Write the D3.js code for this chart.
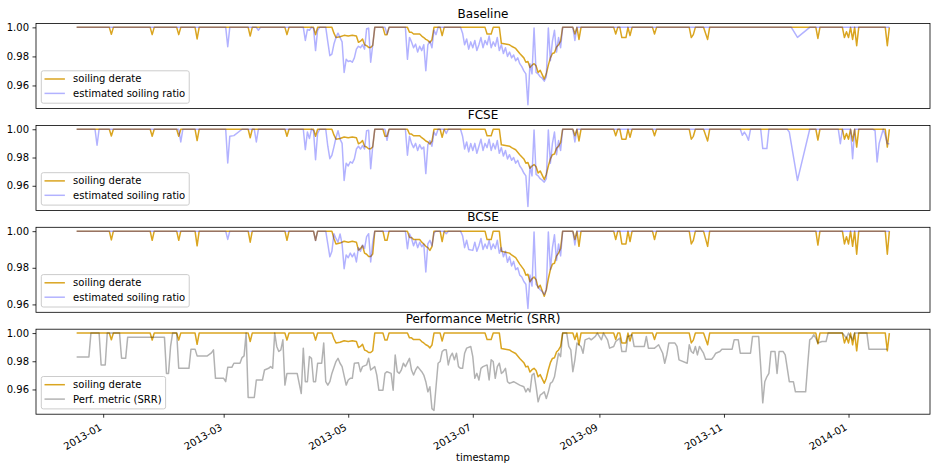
<!DOCTYPE html>
<html>
<head>
<meta charset="utf-8">
<script src="https://cdnjs.cloudflare.com/ajax/libs/d3/7.8.5/d3.min.js"></script>
<style>
  body { margin: 0; background: #fff; }
  svg { font-family: "DejaVu Sans", sans-serif; }
</style>
</head>
<body>
<div id="chart"></div>
<script>
// values, [day, value]
var derate = [
  ["2012-12-19",1],["2013-01-04",1],["2013-01-05",.9952],["2013-01-06",1],
  ["2013-01-24",1],["2013-01-25",.995],["2013-01-26",1],["2013-02-06",1],["2013-02-07",.995],["2013-02-08",1],
  ["2013-02-15",1],["2013-02-16",.992],["2013-02-17",1],["2013-03-13",1],["2013-03-14",.994],["2013-03-15",1],
  ["2013-03-31",1],["2013-04-01",.995],["2013-04-02",1],["2013-04-14",1],["2013-04-15",.995],["2013-04-16",1],
  ["2013-04-23",1],["2013-04-24",.996],["2013-04-25",.993],["2013-04-27",.9935],["2013-04-29",.9945],["2013-05-01",.994],
  ["2013-05-03",.9945],["2013-05-05",.994],["2013-05-06",.9897],["2013-05-07",.9905],["2013-05-08",.992],["2013-05-09",.988],
  ["2013-05-10",.9874],["2013-05-11",.9862],["2013-05-12",.9862],["2013-05-13",.9875],["2013-05-14",1],
  ["2013-05-18",1],["2013-05-19",.995],["2013-05-20",.995],["2013-05-21",1],
  ["2013-05-30",1],["2013-05-31",.9966],["2013-06-01",.9966],["2013-06-02",.9954],["2013-06-05",.9954],["2013-06-06",.994],
  ["2013-06-07",.993],["2013-06-08",.9917],["2013-06-09",.991],["2013-06-10",.9895],["2013-06-11",.9915],["2013-06-12",1],
  ["2013-06-15",1],["2013-06-16",.9943],["2013-06-17",1],["2013-07-07",1],["2013-07-08",.9954],["2013-07-10",.9954],["2013-07-11",1],
  ["2013-07-14",1],["2013-07-15",.989],["2013-07-17",.9885],["2013-07-19",.988],["2013-07-20",.987],["2013-07-22",.9855],
  ["2013-07-24",.982],["2013-07-26",.979],["2013-07-27",.976],["2013-07-28",.9765],["2013-07-29",.9724],["2013-07-30",.974],
  ["2013-07-31",.975],["2013-08-01",.9735],["2013-08-02",.969],["2013-08-03",.9705],["2013-08-04",.9675],["2013-08-05",.9644],
  ["2013-08-06",.968],["2013-08-07",.974],["2013-08-08",.979],["2013-08-09",.982],["2013-08-10",.9825],["2013-08-11",.9865],
  ["2013-08-12",.988],["2013-08-13",.9905],["2013-08-14",1],
  ["2013-08-19",1],["2013-08-20",.9954],["2013-08-21",1],["2013-08-22",.9917],["2013-08-23",1],
  ["2013-09-08",1],["2013-09-09",.9954],["2013-09-10",1],["2013-09-11",1],["2013-09-12",.993],["2013-09-14",.993],["2013-09-15",1],
  ["2013-09-16",.9943],["2013-09-17",1],["2013-09-27",1],["2013-09-28",.9954],["2013-09-29",1],
  ["2013-10-15",1],["2013-10-16",.993],["2013-10-17",.995],["2013-10-18",1],["2013-10-22",1],["2013-10-24",.9917],["2013-10-25",1],
  ["2013-12-16",1],["2013-12-17",.9924],["2013-12-18",1],["2013-12-29",1],["2013-12-30",.993],["2013-12-31",.997],
  ["2014-01-01",.993],["2014-01-02",1],["2014-01-03",.9917],["2014-01-04",1],["2014-01-05",.9874],["2014-01-06",1],
  ["2014-01-19",1],["2014-01-20",.9874],["2014-01-21",1]
];

var baseline = [
  ["2012-12-19",1],["2013-03-02",1],["2013-03-03",.9867],["2013-03-04",1],["2013-03-17",1],["2013-03-18",.998],["2013-03-19",1],
  ["2013-04-09",1],["2013-04-10",.991],["2013-04-11",.9985],["2013-04-12",.998],["2013-04-13",1],["2013-04-14",.9995],
  ["2013-04-15",.984],["2013-04-16",.998],["2013-04-17",1],["2013-04-20",1],["2013-04-21",.99],["2013-04-22",.9805],
  ["2013-04-23",.9816],["2013-04-24",.9885],["2013-04-25",.993],["2013-04-26",.996],["2013-04-27",.993],["2013-04-28",.99],
  ["2013-04-29",.969],["2013-04-30",.978],["2013-05-01",.9765],["2013-05-02",.977],["2013-05-03",.976],["2013-05-04",.979],
  ["2013-05-05",.985],["2013-05-06",.987],["2013-05-07",.986],["2013-05-08",.988],["2013-05-09",.985],["2013-05-10",.999],
  ["2013-05-11",.9995],["2013-05-12",.976],["2013-05-13",.988],["2013-05-14",1],["2013-05-19",1],["2013-05-20",.9954],["2013-05-21",1],
  ["2013-05-29",1],["2013-05-30",.978],["2013-05-31",.9931],["2013-06-01",.99],["2013-06-02",.986],["2013-06-03",.9885],
  ["2013-06-04",.983],["2013-06-05",.987],["2013-06-06",.984],["2013-06-07",.988],["2013-06-08",.9701],["2013-06-09",.988],
  ["2013-06-10",.9905],["2013-06-11",.986],["2013-06-12",.998],["2013-06-13",.995],["2013-06-14",1],["2013-06-25",1],
  ["2013-06-26",.996],["2013-06-27",.988],["2013-06-28",.992],["2013-06-29",.985],["2013-06-30",.99],["2013-07-01",.986],
  ["2013-07-02",.991],["2013-07-03",.984],["2013-07-04",.988],["2013-07-05",.993],["2013-07-06",.986],["2013-07-07",.991],
  ["2013-07-08",.988],["2013-07-09",.994],["2013-07-10",.986],["2013-07-11",.99],["2013-07-12",.987],["2013-07-13",.993],
  ["2013-07-14",.984],["2013-07-15",.988],["2013-07-16",.982],["2013-07-17",.986],["2013-07-18",.98],["2013-07-19",.983],
  ["2013-07-20",.979],["2013-07-21",.981],["2013-07-22",.977],["2013-07-23",.979],["2013-07-24",.975],["2013-07-25",.973],
  ["2013-07-26",.97],["2013-07-27",.968],["2013-07-28",.9468],["2013-07-29",.975],["2013-07-30",.968],["2013-07-31",.9995],
  ["2013-08-01",.969],["2013-08-02",.968],["2013-08-03",.966],["2013-08-04",.965],["2013-08-05",.963],["2013-08-06",.966],
  ["2013-08-07",.9995],["2013-08-08",.977],["2013-08-09",.9905],["2013-08-10",.998],["2013-08-11",.983],["2013-08-12",.993],
  ["2013-08-13",.986],["2013-08-14",1],["2013-08-19",1],["2013-08-20",.991],["2013-08-21",1],
  ["2013-12-04",1],["2013-12-07",.9931],["2013-12-13",1],["2014-01-21",1]
];

var fcse = [
  ["2012-12-19",1],["2012-12-28",1],["2012-12-29",.9887],["2012-12-30",1],["2013-02-07",1],["2013-02-08",.991],["2013-02-09",1],
  ["2013-03-02",1],["2013-03-03",.9761],["2013-03-04",.995],["2013-03-06",.9955],["2013-03-10",1],["2013-03-16",1],
  ["2013-03-17",.991],["2013-03-18",1],["2013-04-09",1],["2013-04-10",.9856],["2013-04-11",.998],["2013-04-12",.9934],
  ["2013-04-13",1],["2013-04-14",.999],["2013-04-15",.9785],["2013-04-16",.997],["2013-04-17",1],["2013-04-20",1],
  ["2013-04-21",.988],["2013-04-22",.9792],["2013-04-23",.9816],["2013-04-24",.9875],["2013-04-25",.994],["2013-04-26",.999],
  ["2013-04-27",.993],["2013-04-28",.99],["2013-04-29",.9638],["2013-04-30",.976],["2013-05-01",.974],["2013-05-02",.977],
  ["2013-05-03",.976],["2013-05-04",.979],["2013-05-05",.986],["2013-05-06",.988],["2013-05-07",.986],["2013-05-08",.9885],
  ["2013-05-09",.986],["2013-05-10",.999],["2013-05-11",.9993],["2013-05-12",.9721],["2013-05-13",.988],["2013-05-14",1],
  ["2013-05-19",1],["2013-05-20",.9922],["2013-05-21",1],["2013-05-29",1],["2013-05-30",.9816],["2013-05-31",.995],
  ["2013-06-01",.99],["2013-06-02",.987],["2013-06-03",.99],["2013-06-04",.985],["2013-06-05",.989],["2013-06-06",.986],
  ["2013-06-07",.9875],["2013-06-08",.9686],["2013-06-09",.989],["2013-06-10",.992],["2013-06-11",.988],["2013-06-12",.998],
  ["2013-06-13",.9957],["2013-06-14",1],["2013-06-17",1],["2013-06-18",.997],["2013-06-19",1],["2013-06-25",1],
  ["2013-06-26",.995],["2013-06-27",.986],["2013-06-28",.991],["2013-06-29",.984],["2013-06-30",.99],["2013-07-01",.985],
  ["2013-07-02",.99],["2013-07-03",.983],["2013-07-04",.988],["2013-07-05",.993],["2013-07-06",.985],["2013-07-07",.99],
  ["2013-07-08",.987],["2013-07-09",.993],["2013-07-10",.985],["2013-07-11",.99],["2013-07-12",.986],["2013-07-13",.992],
  ["2013-07-14",.983],["2013-07-15",.987],["2013-07-16",.981],["2013-07-17",.985],["2013-07-18",.979],["2013-07-19",.982],
  ["2013-07-20",.978],["2013-07-21",.98],["2013-07-22",.976],["2013-07-23",.978],["2013-07-24",.974],["2013-07-25",.972],
  ["2013-07-26",.969],["2013-07-27",.967],["2013-07-28",.9453],["2013-07-29",.974],["2013-07-30",.967],["2013-07-31",.9995],
  ["2013-08-01",.968],["2013-08-02",.967],["2013-08-03",.965],["2013-08-04",.964],["2013-08-05",.9626],["2013-08-06",.965],
  ["2013-08-07",.9995],["2013-08-08",.976],["2013-08-09",.99],["2013-08-10",.998],["2013-08-11",.982],["2013-08-12",.992],
  ["2013-08-13",.985],["2013-08-14",1],["2013-08-19",1],["2013-08-20",.991],["2013-08-21",1],
  ["2013-11-09",1],["2013-11-10",.9957],["2013-11-11",.998],["2013-11-12",.9957],["2013-11-13",.9922],["2013-11-14",1],
  ["2013-11-19",1],["2013-11-20",.9863],["2013-11-22",.9863],["2013-11-23",1],["2013-12-02",1],["2013-12-03",.998],
  ["2013-12-07",.9638],["2013-12-13",1],["2013-12-27",1],["2013-12-28",.9898],["2013-12-29",1],["2014-01-02",1],
  ["2014-01-03",.9792],["2014-01-04",1],["2014-01-13",1],["2014-01-14",.999],["2014-01-15",.9768],["2014-01-16",.99],
  ["2014-01-18",1],["2014-01-19",.9955],["2014-01-20",.9898],["2014-01-21",.9898]
];

var bcse = [
  ["2012-12-19",1],["2013-03-02",1],["2013-03-03",.9955],["2013-03-04",1],["2013-04-14",1],["2013-04-15",.9949],["2013-04-16",1],
  ["2013-04-20",1],["2013-04-21",.993],["2013-04-22",.986],["2013-04-23",.989],["2013-04-24",.9986],["2013-04-25",.996],
  ["2013-04-26",.994],["2013-04-27",.9985],["2013-04-28",.993],["2013-04-29",.9795],["2013-04-30",.987],["2013-05-01",.9855],
  ["2013-05-02",.988],["2013-05-03",.986],["2013-05-04",.988],["2013-05-05",.9832],["2013-05-06",.991],["2013-05-07",.989],
  ["2013-05-08",.9925],["2013-05-09",.9905],["2013-05-10",.997],["2013-05-11",.9986],["2013-05-12",.9832],["2013-05-13",.994],
  ["2013-05-14",1],["2013-05-29",1],["2013-05-30",.9904],["2013-05-31",.9986],["2013-06-01",.996],["2013-06-02",.992],
  ["2013-06-03",.995],["2013-06-04",.991],["2013-06-05",.994],["2013-06-06",.9915],["2013-06-07",.993],["2013-06-08",.9777],
  ["2013-06-09",.993],["2013-06-10",.995],["2013-06-11",.992],["2013-06-12",.999],["2013-06-13",1],["2013-06-17",1],
  ["2013-06-18",.9986],["2013-06-19",1],["2013-06-25",1],["2013-06-26",.9975],["2013-06-27",.991],["2013-06-28",.995],
  ["2013-06-29",.99],["2013-07-01",.9895],["2013-07-02",.994],["2013-07-03",.989],["2013-07-04",.992],["2013-07-05",.996],
  ["2013-07-06",.99],["2013-07-07",.993],["2013-07-08",.9905],["2013-07-09",.995],["2013-07-10",.99],["2013-07-11",.993],
  ["2013-07-12",.9905],["2013-07-13",.995],["2013-07-14",.988],["2013-07-15",.991],["2013-07-16",.986],["2013-07-17",.989],
  ["2013-07-18",.983],["2013-07-19",.986],["2013-07-20",.981],["2013-07-21",.9835],["2013-07-22",.979],["2013-07-23",.98],
  ["2013-07-24",.976],["2013-07-25",.975],["2013-07-26",.9725],["2013-07-27",.971],["2013-07-28",.9578],["2013-07-29",.976],
  ["2013-07-30",.97],["2013-07-31",.9995],["2013-08-01",.971],["2013-08-02",.9695],["2013-08-03",.968],["2013-08-04",.967],
  ["2013-08-05",.9655],["2013-08-06",.968],["2013-08-07",.9995],["2013-08-08",.979],["2013-08-09",.991],["2013-08-10",.998],
  ["2013-08-11",.984],["2013-08-12",.993],["2013-08-13",.9865],["2013-08-14",1],["2013-08-19",1],["2013-08-20",.9925],
  ["2013-08-21",1],["2014-01-21",1]
];

var srr = [
  ["2012-12-19",.9831],["2012-12-25",.9831],["2012-12-26",1],["2012-12-30",1],["2012-12-31",.9774],["2013-01-02",.9774],
  ["2013-01-03",1],["2013-01-09",1],["2013-01-10",.9821],["2013-01-12",.9821],["2013-01-13",.9971],["2013-01-31",.9971],
  ["2013-02-01",.9714],["2013-02-02",.9714],["2013-02-03",.9905],["2013-02-04",1],["2013-02-06",1],["2013-02-07",.975],
  ["2013-02-12",.975],["2013-02-13",.9886],["2013-02-15",.9886],["2013-02-16",.9838],["2013-02-21",.9838],["2013-02-23",.986],
  ["2013-02-24",.9881],["2013-02-25",.9679],["2013-03-01",.9679],["2013-03-02",.9655],["2013-03-03",.9757],["2013-03-05",.9757],
  ["2013-03-06",.9786],["2013-03-09",.9786],["2013-03-10",.9826],["2013-03-11",.9838],["2013-03-12",1],["2013-03-13",.9543],
  ["2013-03-16",.9543],["2013-03-17",.9667],["2013-03-20",.9667],["2013-03-21",.9738],["2013-03-23",.975],["2013-03-24",.9762],
  ["2013-03-25",.975],["2013-03-26",1],["2013-03-27",.9905],["2013-03-28",.9869],["2013-03-29",.9881],["2013-03-30",.9952],
  ["2013-03-31",.9631],["2013-04-01",.9714],["2013-04-06",.9714],["2013-04-08",.9571],["2013-04-09",.9893],["2013-04-10",.9655],
  ["2013-04-11",.9655],["2013-04-12",.9833],["2013-04-13",.9821],["2013-04-14",.9655],["2013-04-15",.9655],["2013-04-16",.9786],
  ["2013-04-18",.9786],["2013-04-19",.9929],["2013-04-20",.9655],["2013-04-21",.9631],["2013-04-22",.9655],["2013-04-23",.9714],
  ["2013-04-25",.9798],["2013-04-26",.9821],["2013-04-27",.9786],["2013-04-28",.9762],["2013-04-30",.9631],["2013-05-01",.9667],
  ["2013-05-02",.9679],["2013-05-03",.9679],["2013-05-04",.9786],["2013-05-06",.979],["2013-05-07",.9726],["2013-05-08",.9762],
  ["2013-05-10",.9774],["2013-05-11",.9821],["2013-05-12",.9738],["2013-05-14",.9762],["2013-05-15",.9702],["2013-05-16",.9595],
  ["2013-05-18",.9595],["2013-05-19",.9714],["2013-05-20",.9726],["2013-05-22",.9714],["2013-05-23",.9595],["2013-05-24",.9845],
  ["2013-05-25",.9726],["2013-05-26",.9714],["2013-05-27",.9738],["2013-05-28",.9786],["2013-05-29",.9762],["2013-05-31",.9821],
  ["2013-06-01",.9738],["2013-06-02",.9702],["2013-06-03",.9738],["2013-06-04",.9762],["2013-06-06",.9726],["2013-06-07",.9702],
  ["2013-06-08",.9655],["2013-06-09",.9583],["2013-06-10",.9619],["2013-06-11",.9464],["2013-06-12",.9452],["2013-06-13",.9619],
  ["2013-06-14",.9786],["2013-06-15",.9798],["2013-06-16",.9869],["2013-06-17",.9881],["2013-06-18",.9881],["2013-06-19",.9774],
  ["2013-06-20",.9833],["2013-06-21",.9857],["2013-06-22",.981],["2013-06-23",.9857],["2013-06-24",.9762],["2013-06-25",.975],
  ["2013-06-26",.975],["2013-06-27",.9857],["2013-06-28",.9893],["2013-06-30",.9905],["2013-07-01",.9833],["2013-07-02",.9679],
  ["2013-07-03",.9714],["2013-07-04",.9667],["2013-07-05",.975],["2013-07-06",.9762],["2013-07-08",.9774],["2013-07-09",.9667],
  ["2013-07-10",.9810],["2013-07-11",.9798],["2013-07-12",.9679],["2013-07-13",.9762],["2013-07-14",.9786],["2013-07-15",.9714],
  ["2013-07-16",.9726],["2013-07-17",.975],["2013-07-18",.9655],["2013-07-19",.9643],["2013-07-21",.9655],["2013-07-24",.9631],
  ["2013-07-26",.9619],["2013-07-27",.9583],["2013-07-28",.9607],["2013-07-29",.9583],["2013-07-30",.9702],["2013-07-31",.9714],
  ["2013-08-01",.9619],["2013-08-02",.9512],["2013-08-03",.956],["2013-08-04",.9571],["2013-08-05",.9583],["2013-08-06",.9536],
  ["2013-08-07",.9583],["2013-08-08",.9643],["2013-08-09",.9655],["2013-08-10",.969],["2013-08-12",.9857],["2013-08-13",.9833],
  ["2013-08-14",1],["2013-08-16",1],["2013-08-17",.9905],["2013-08-18",.9881],["2013-08-19",.9726],["2013-08-20",.981],
  ["2013-08-21",.9929],["2013-08-23",.9905],["2013-08-24",.9857],["2013-08-25",.9952],["2013-08-27",.9964],["2013-08-28",.9952],
  ["2013-08-30",.9976],["2013-08-31",1],["2013-09-02",.9952],["2013-09-03",1],["2013-09-05",.9952],["2013-09-06",.9893],
  ["2013-09-08",.9905],["2013-09-09",.994],["2013-09-11",.9964],["2013-09-12",.9869],["2013-09-14",.9869],["2013-09-15",.9976],
  ["2013-09-17",.9988],["2013-09-18",.9905],["2013-09-23",.9905],["2013-09-24",.9976],["2013-09-25",.9893],["2013-09-28",.9893],
  ["2013-09-29",.9905],["2013-09-30",.9917],["2013-10-02",.9857],["2013-10-03",.9786],["2013-10-04",.9845],["2013-10-05",.9929],
  ["2013-10-08",.9929],["2013-10-09",.9905],["2013-10-10",.981],["2013-10-14",.9786],["2013-10-15",.9917],["2013-10-16",.9869],
  ["2013-10-17",.9857],["2013-10-18",.9905],["2013-10-19",.9845],["2013-10-20",.9905],["2013-10-21",.9881],["2013-10-22",.9857],
  ["2013-10-23",.9814],["2013-10-26",.9814],["2013-10-27",.9833],["2013-10-28",.9857],["2013-10-30",.9869],["2013-10-31",.9886],
  ["2013-11-05",.9886],["2013-11-06",.9952],["2013-11-08",.9952],["2013-11-09",.9857],["2013-11-14",.9857],["2013-11-15",.9976],
  ["2013-11-18",.9976],["2013-11-19",.9762],["2013-11-20",.9505],["2013-11-21",.9655],["2013-11-22",.969],["2013-11-23",.9714],
  ["2013-11-24",.9869],["2013-11-26",.9869],["2013-11-27",.9714],["2013-11-28",.9869],["2013-11-30",.9869],["2013-12-01",.9845],
  ["2013-12-03",.9655],["2013-12-05",.9655],["2013-12-06",.9583],["2013-12-11",.9583],["2013-12-12",.9774],["2013-12-13",.9952],
  ["2013-12-14",.9964],["2013-12-15",.9988],["2013-12-16",.9964],["2013-12-17",.9929],["2013-12-19",.994],["2013-12-21",.994],
  ["2013-12-22",1],["2013-12-29",1],["2013-12-31",.9964],["2014-01-01",1],["2014-01-03",.9952],["2014-01-04",1],
  ["2014-01-10",1],["2014-01-11",.9886],["2014-01-20",.9886]
];

var titles = ["Baseline", "FCSE", "BCSE", "Performance Metric (SRR)"];
var yTicks = [0.96, 0.98, 1.00];

var gold = "#daa520";

var panels = [
  {title: titles[0], est: baseline, label: "estimated soiling ratio", color: "#0000ff"},
  {title: titles[1], est: fcse, label: "estimated soiling ratio", color: "#0000ff"},
  {title: titles[2], est: bcse, label: "estimated soiling ratio", color: "#0000ff"},
  {title: titles[3], est: srr, label: "Perf. metric (SRR)", color: "#000000"}
];

//set dimensions
var width = 936,
    height = 472,
    left = 36, right = 930,
    top0 = 23.5, panelH = 85, step = 101.9;

var parse = d3.timeParse("%Y-%m-%d");
function prep(arr) { return arr.map(function(d) { return {date: parse(d[0]), value: d[1]}; }); }

var derateData = prep(derate);

// x scale with 5% padding on each side, like matplotlib
var ext = d3.extent(derateData, function(d) { return d.date; });
var span = ext[1] - ext[0];
var x = d3.scaleTime()
          .domain([new Date(+ext[0] - span * 0.05), new Date(+ext[1] + span * 0.05)])
          .range([left, right]);

var svg = d3.select("#chart")
            .append("svg")
             .attr("width", width)
             .attr("height", height);

panels.forEach(function(p, i) {
  var top = top0 + i * step,
      bottom = top + panelH;
  var est = prep(p.est);

  var vals = derateData.concat(est).map(function(d) { return d.value; });
  var lo = d3.min(vals), hi = d3.max(vals), pad = (hi - lo) * 0.05;
  var y = d3.scaleLinear().domain([lo - pad, hi + pad]).range([bottom, top]);

  var line = d3.line()
               .x(function(d) { return x(d.date); })
               .y(function(d) { return y(d.value); });

  var g = svg.append("g");

  g.append("path")
   .datum(derateData)
   .attr("d", line)
   .attr("fill", "none")
   .attr("stroke", gold)
   .attr("stroke-width", 1.5)
   .attr("stroke-linejoin", "round");

  g.append("path")
   .datum(est)
   .attr("d", line)
   .attr("fill", "none")
   .attr("stroke", p.color)
   .attr("stroke-opacity", 0.3)
   .attr("stroke-width", 1.5)
   .attr("stroke-linejoin", "round");

  // frame
  g.append("rect")
   .attr("x", left).attr("y", top)
   .attr("width", right - left).attr("height", panelH)
   .attr("fill", "none")
   .attr("stroke", "#000")
   .attr("stroke-width", 0.8);

  // y axis
  var ya = g.append("g")
            .attr("transform", "translate(" + left + ",0)")
            .call(d3.axisLeft(y).tickValues(yTicks).tickFormat(d3.format(".2f")).tickSize(3.5).tickPadding(3.5));
  ya.select(".domain").remove();
  ya.selectAll("line").attr("stroke", "#000").attr("stroke-width", 0.8);
  ya.selectAll("text").attr("font-size", 10).attr("fill", "#000").attr("font-family", "DejaVu Sans");

  // title
  g.append("text")
   .attr("x", (left + right) / 2)
   .attr("y", top - 6)
   .attr("text-anchor", "middle")
   .attr("font-size", 12)
   .text(p.title);

  // legend, lower left
  var lg = g.append("g").attr("transform", "translate(41.3," + (bottom - 5.3 - 32.4) + ")");
  var box = lg.append("rect")
              .attr("height", 32.4)
              .attr("rx", 2)
              .attr("fill", "#fff").attr("fill-opacity", 0.8)
              .attr("stroke", "#ccc").attr("stroke-width", 1);
  var items = [{label: "soiling derate", color: gold, op: 1}, {label: p.label, color: p.color, op: 0.3}];
  var maxW = 0;
  items.forEach(function(it, k) {
    var yy = 8.2 + k * 14.4;
    lg.append("line")
      .attr("x1", 3.2).attr("x2", 23.6).attr("y1", yy).attr("y2", yy)
      .attr("stroke", it.color).attr("stroke-opacity", it.op).attr("stroke-width", 1.5);
    var t = lg.append("text")
              .attr("x", 31.8).attr("y", yy).attr("dy", "0.35em")
              .attr("font-size", 10)
              .text(it.label);
    maxW = Math.max(maxW, t.node().getComputedTextLength());
  });
  box.attr("width", 31.8 + maxW + 4);

  // x axis only on the bottom panel
  if (i === panels.length - 1) {
    var xa = g.append("g")
              .attr("transform", "translate(0," + bottom + ")")
              .call(d3.axisBottom(x).ticks(d3.timeMonth.every(2)).tickFormat(d3.timeFormat("%Y-%m")).tickSize(3.5));
    xa.select(".domain").remove();
    xa.selectAll("line").attr("stroke", "#000").attr("stroke-width", 0.8);
    xa.selectAll("text")
      .attr("font-size", 10).attr("fill", "#000").attr("font-family", "DejaVu Sans")
      .attr("text-anchor", "end")
      .attr("x", 0).attr("y", -2.4).attr("dy", null)
      .attr("transform", "translate(0,17.1) rotate(-30)");

    svg.append("text")
       .attr("x", (left + right) / 2)
       .attr("y", 461)
       .attr("text-anchor", "middle")
       .attr("font-size", 10)
       .text("timestamp");
  }
});
</script>
</body>
</html>
